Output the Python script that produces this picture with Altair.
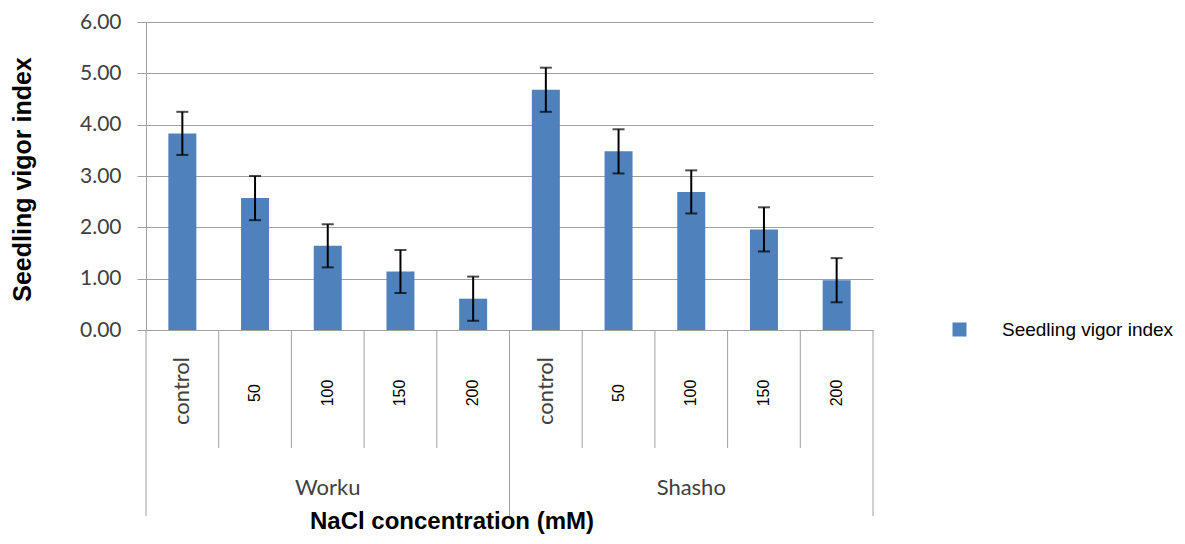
import altair as alt
import pandas as pd

# ---- data ----
groups = ["Worku"] * 5 + ["Shasho"] * 5
concs = ["control", "50", "100", "150", "200"] * 2
values = [3.83, 2.57, 1.64, 1.14, 0.61, 4.68, 3.48, 2.69, 1.96, 0.97]
errors = [0.42, 0.43, 0.42, 0.42, 0.43, 0.43, 0.43, 0.42, 0.43, 0.43]
series_name = "Seedling vigor index"
group_names = ["Worku", "Shasho"]

keys = [f"{g}|{c}" for g, c in zip(groups, concs)]

df = pd.DataFrame({
    "key": keys,
    "group": groups,
    "conc": concs,
    "value": values,
    "lo": [v - e for v, e in zip(values, errors)],
    "hi": [v + e for v, e in zip(values, errors)],
    "series": [series_name] * len(keys),
})

# boundaries between categories
inner_df = pd.DataFrame({"key": [k for k, c in zip(keys, concs) if c != "control"]})
group_start_df = pd.DataFrame({"key": [k for k, c in zip(keys, concs) if c == "control"]})
group_end_df = pd.DataFrame({"key": [keys[-1]]})
# group labels centred on the middle category of each group
group_lab_df = pd.DataFrame({
    "key": [f"{g}|{concs[2]}" for g in group_names],
    "group": group_names,
})

GRID = "#A0A0A0"
BLUE = "#4F81BD"

xscale = alt.Scale(domain=keys, paddingInner=0, paddingOuter=0)

def X(**kw):
    return alt.X("key:N", scale=xscale, axis=None, sort=keys, **kw)

yaxis = alt.Axis(
    values=[0, 1, 2, 3, 4, 5, 6], format=".2f",
    grid=True, gridColor=GRID, gridWidth=1,
    domainColor=GRID, tickColor=GRID, tickSize=9,
    labelFont="Lato", labelFontSize=21, labelColor="#404040", labelPadding=16,
    title="Seedling vigor index", titleFont="Liberation Sans", titleFontSize=25,
    titleFontWeight="bold", titleColor="black", titleAngle=270,
    titleX=-124, titleY=157, titleAlign="center", titleBaseline="middle",
)

bars = alt.Chart(df).mark_bar(width=alt.RelativeBandSize(0.385)).encode(
    x=X(),
    y=alt.Y("value:Q", scale=alt.Scale(domain=[0, 6], nice=False), axis=yaxis),
    color=alt.Color("series:N", scale=alt.Scale(domain=[series_name], range=[BLUE]),
                    legend=alt.Legend(orient="none", legendX=804, legendY=298, title=None,
                                      symbolType="square", symbolSize=196, symbolStrokeWidth=0,
                                      labelFont="Liberation Sans", labelFontSize=19,
                                      labelColor="black", labelOffset=33, labelLimit=400,
                                      padding=0)),
)

err = alt.Chart(df).mark_rule(color="black", strokeWidth=2).encode(
    x=X(), y="lo:Q", y2="hi:Q")
cap_lo = alt.Chart(df).mark_tick(color="black", thickness=2, size=12, orient="horizontal").encode(
    x=X(), y="lo:Q")
cap_hi = alt.Chart(df).mark_tick(color="black", thickness=2, size=12, orient="horizontal").encode(
    x=X(), y="hi:Q")

sep_inner = alt.Chart(inner_df).mark_rule(color=GRID, strokeWidth=1).encode(
    x=X(bandPosition=0), y=alt.value(308), y2=alt.value(426))
sep_group = alt.Chart(group_start_df).mark_rule(color=GRID, strokeWidth=1).encode(
    x=X(bandPosition=0), y=alt.value(308), y2=alt.value(494))
sep_end = alt.Chart(group_end_df).mark_rule(color=GRID, strokeWidth=1).encode(
    x=X(bandPosition=1), y=alt.value(308), y2=alt.value(494))

lab_control = alt.Chart(df).transform_filter(alt.datum.conc == "control").mark_text(
    angle=270, font="Lato", fontSize=22, color="#404040", align="center", baseline="middle"
).encode(x=X(), y=alt.value(369), text="conc:N")

lab_num = alt.Chart(df).transform_filter(alt.datum.conc != "control").mark_text(
    angle=270, font="Liberation Sans", fontSize=16, color="black", align="center", baseline="middle"
).encode(x=X(), y=alt.value(371), text="conc:N")

lab_group = alt.Chart(group_lab_df).mark_text(
    font="Lato", fontSize=22, color="#404040", align="center", baseline="middle"
).encode(x=X(), y=alt.value(466), text="group:N")

xtitle = alt.Chart(pd.DataFrame({"t": ["NaCl concentration (mM)"]})).mark_text(
    font="Liberation Sans", fontSize=24, fontWeight="bold", color="black",
    align="center", baseline="alphabetic"
).encode(x=alt.value(306), y=alt.value(507), text="t:N")

chart = alt.layer(
    bars, err, cap_lo, cap_hi, sep_inner, sep_group, sep_end,
    lab_control, lab_num, lab_group, xtitle
).properties(
    width=727, height=308,
    padding={"left": 138, "top": 14, "right": 304, "bottom": 206},
    autosize=alt.AutoSizeParams(type="none"),
    background="white",
).configure_view(stroke=None)

chart.save("out.html", embed_options={"renderer": "svg", "actions": False})
